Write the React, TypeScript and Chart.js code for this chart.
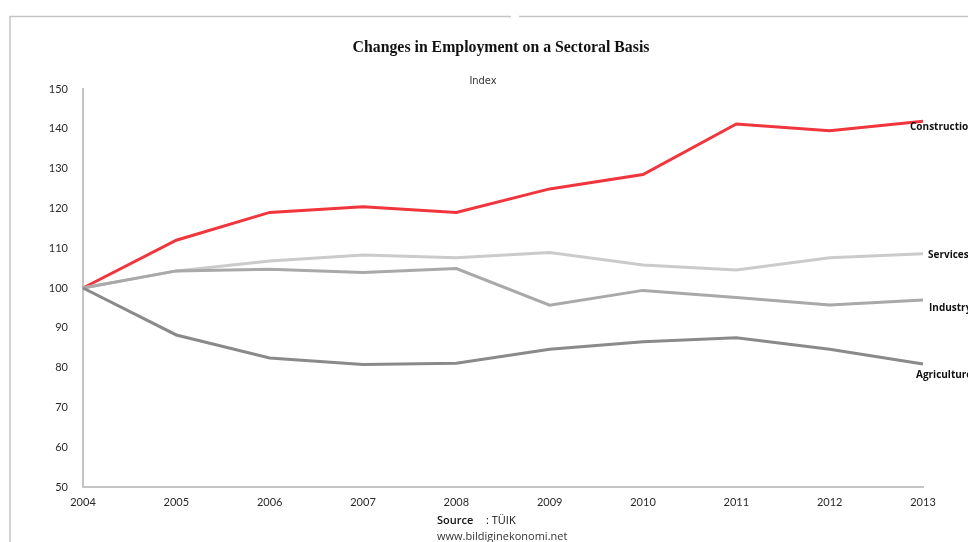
import React, { useEffect, useRef } from "react";
import { Chart, registerables } from "chart.js";

Chart.register(...registerables);

// Sector employment index, 2004 = 100
const years = ["2004", "2005", "2006", "2007", "2008", "2009", "2010", "2011", "2012", "2013"];
const construction = [100, 112.0, 119.0, 120.4, 119.0, 124.9, 128.5, 141.2, 139.5, 141.9];
const services = [100, 104.3, 106.8, 108.3, 107.6, 108.9, 105.8, 104.5, 107.6, 108.6];
const industry = [100, 104.3, 104.7, 103.9, 104.9, 95.7, 99.4, 97.6, 95.7, 97.0];
const agriculture = [100, 88.2, 82.4, 80.8, 81.1, 84.6, 86.5, 87.5, 84.6, 80.9];

const yMin = 50;
const yMax = 150;
const yStep = 10;

const titleText = "Changes in Employment on a Sectoral Basis";
const subtitleText = "Index";
const sourceLabel = "Source";
const sourceValue = ": TÜIK";
const sourceSite = "www.bildiginekonomi.net";

// name shown at the end of each line, with its offset from the last point
const endLabels = [
  { name: "Construction", dataset: 3, dx: -13, dy: 6 },
  { name: "Services", dataset: 2, dx: 5, dy: 1 },
  { name: "Industry", dataset: 1, dx: 6, dy: 8 },
  { name: "Agriculture", dataset: 0, dx: -7, dy: 11 },
];

const decorations = {
  id: "decorations",
  afterDraw(chart: any) {
    const { ctx } = chart;
    ctx.save();

    // outer frame
    ctx.strokeStyle = "#c6c6c6";
    ctx.lineWidth = 1.5;
    ctx.beginPath();
    ctx.moveTo(10, 542);
    ctx.lineTo(10, 16.5);
    ctx.lineTo(511, 16.5);
    ctx.moveTo(519, 16.5);
    ctx.lineTo(968, 16.5);
    ctx.stroke();

    // title, slightly condensed
    ctx.fillStyle = "#111";
    ctx.textAlign = "center";
    ctx.textBaseline = "middle";
    ctx.save();
    ctx.translate(501, 48);
    ctx.scale(0.93, 1);
    ctx.font = "bold 17px 'Liberation Serif', serif";
    ctx.fillText(titleText, 0, 0);
    ctx.restore();

    ctx.fillStyle = "#333";
    ctx.font = "11px 'DejaVu Sans Condensed', 'DejaVu Sans', sans-serif";
    ctx.fillText(subtitleText, 483, 81);

    // labels at line ends
    ctx.textAlign = "left";
    ctx.fillStyle = "#111";
    ctx.font = "bold 10px 'Open Sans', sans-serif";
    endLabels.forEach((l) => {
      const meta = chart.getDatasetMeta(l.dataset);
      const pt = meta.data[meta.data.length - 1];
      ctx.fillText(l.name, pt.x + l.dx, pt.y + l.dy);
    });

    // source
    ctx.font = "600 11px 'Open Sans', sans-serif";
    ctx.fillText(sourceLabel, 437, 521);
    ctx.font = "11px 'Open Sans', sans-serif";
    ctx.fillText(sourceValue, 486, 521);
    ctx.fillStyle = "#333";
    ctx.fillText(sourceSite, 437, 537);

    ctx.restore();
  },
};

export default function App() {
  const canvasRef = useRef<HTMLCanvasElement | null>(null);

  useEffect(() => {
    if (!canvasRef.current) return;
    const tickFont = { family: "Lato, 'Open Sans', sans-serif", size: 11 };
    const chart = new Chart(canvasRef.current, {
      type: "line",
      data: {
        labels: years,
        datasets: [
          { label: "Agriculture", data: agriculture, borderColor: "#8a8a8a" },
          { label: "Industry", data: industry, borderColor: "#a9a9a9" },
          { label: "Services", data: services, borderColor: "#cbcbcb" },
          { label: "Construction", data: construction, borderColor: "#f0363c" },
        ].map((d) => ({
          ...d,
          borderWidth: 3,
          pointRadius: 0,
          tension: 0,
          fill: false,
        })),
      },
      options: {
        responsive: false,
        animation: false,
        layout: { padding: { top: 89, right: 45, bottom: 0, left: 0 } },
        plugins: {
          legend: { display: false },
          title: { display: false },
          tooltip: { enabled: false },
        },
        scales: {
          x: {
            type: "category",
            offset: false,
            grid: { display: false, drawTicks: false },
            border: { display: true, color: "#c4c4c4", width: 2 },
            ticks: {
              color: "#2a2a2a",
              font: tickFont,
              padding: 9,
              autoSkip: false,
              maxRotation: 0,
            },
            afterFit: (s: any) => {
              s.height = 55;
            },
          },
          y: {
            min: yMin,
            max: yMax,
            grid: { display: false, drawTicks: false },
            border: { display: true, color: "#c4c4c4", width: 2 },
            ticks: {
              stepSize: yStep,
              color: "#2a2a2a",
              font: tickFont,
              padding: 15,
            },
            afterFit: (s: any) => {
              s.width = 83;
            },
          },
        },
      },
      plugins: [decorations],
    });
    return () => chart.destroy();
  }, []);

  return (
    <div style={{ position: "fixed", left: 0, top: 0, width: 968, height: 542, background: "#fff" }}>
      <canvas ref={canvasRef} width={968} height={542} style={{ display: "block" }} />
    </div>
  );
}
